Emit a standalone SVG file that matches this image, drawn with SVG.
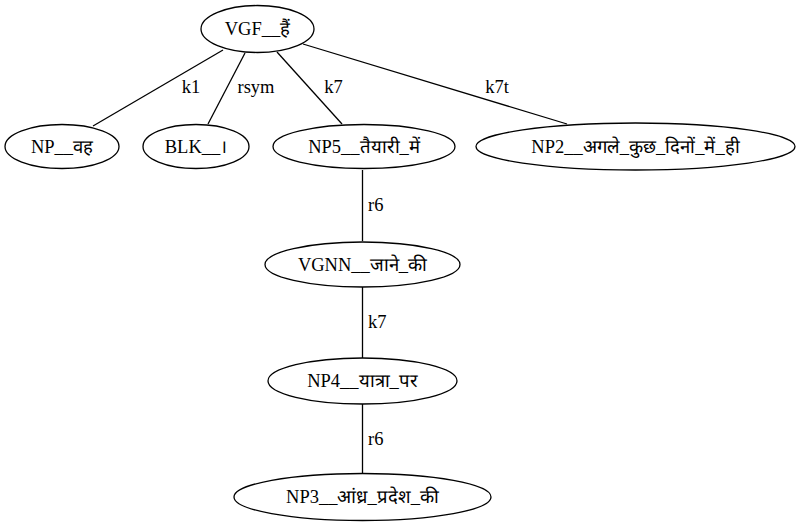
<svg xmlns="http://www.w3.org/2000/svg" width="800" height="528" viewBox="0 0 800 528">
<style>
.n ellipse{fill:none;stroke:#000;stroke-width:1.3}
.e line{stroke:#000;stroke-width:1.3}
</style>
<rect width="800" height="528" fill="#fff"/>
<g id="edges" class="e">
<line x1="223" y1="50" x2="93" y2="126"/>
<line x1="245" y1="53" x2="208" y2="124"/>
<line x1="277" y1="52" x2="342" y2="124"/>
<line x1="303" y1="44" x2="567" y2="124"/>
<line x1="362.5" y1="170" x2="362.5" y2="241"/>
<line x1="362.5" y1="287" x2="362.5" y2="358"/>
<line x1="362.5" y1="404" x2="362.5" y2="474"/>
<text x="191" y="93" font-family="Liberation Serif" font-size="18.5" text-anchor="middle">k1</text>
<text x="256" y="93" font-family="Liberation Serif" font-size="18.5" text-anchor="middle">rsym</text>
<text x="333.5" y="93" font-family="Liberation Serif" font-size="18.5" text-anchor="middle">k7</text>
<text x="497" y="93" font-family="Liberation Serif" font-size="18.5" text-anchor="middle">k7t</text>
<text x="368" y="211" font-family="Liberation Serif" font-size="18.5">r6</text>
<text x="368" y="328" font-family="Liberation Serif" font-size="18.5">k7</text>
<text x="368" y="445" font-family="Liberation Serif" font-size="18.5">r6</text>
</g>
<g id="n_vgf" class="n"><ellipse cx="257.5" cy="29" rx="56.5" ry="23.5"/><text x="257.5" y="35" font-family="Liberation Serif" font-size="18.5" text-anchor="middle">VGF__हैं</text></g>
<g id="n_np" class="n"><ellipse cx="62" cy="146.5" rx="57" ry="22"/><text x="62" y="152.5" font-family="Liberation Serif" font-size="18.5" text-anchor="middle">NP__वह</text></g>
<g id="n_blk" class="n"><ellipse cx="196" cy="146.5" rx="53" ry="22"/><text x="196" y="152.5" font-family="Liberation Serif" font-size="18.5" text-anchor="middle">BLK__।</text></g>
<g id="n_np5" class="n"><ellipse cx="364" cy="146.5" rx="91" ry="22"/><text x="364" y="152.5" font-family="Liberation Serif" font-size="18.5" text-anchor="middle">NP5__तैयारी_में</text></g>
<g id="n_np2" class="n"><ellipse cx="635.5" cy="146.5" rx="159.5" ry="23.5"/><text x="635.5" y="152.5" font-family="Liberation Serif" font-size="18.5" text-anchor="middle">NP2__अगले_कुछ_दिनों_में_ही</text></g>
<g id="n_vgnn" class="n"><ellipse cx="362.5" cy="264.5" rx="97.5" ry="22.5"/><text x="362.5" y="270.5" font-family="Liberation Serif" font-size="18.5" text-anchor="middle">VGNN__जाने_की</text></g>
<g id="n_np4" class="n"><ellipse cx="362.5" cy="381" rx="94.5" ry="23"/><text x="362.5" y="387" font-family="Liberation Serif" font-size="18.5" text-anchor="middle">NP4__यात्रा_पर</text></g>
<g id="n_np3" class="n"><ellipse cx="362.5" cy="497" rx="128.5" ry="23.5"/><text x="362.5" y="503" font-family="Liberation Serif" font-size="18.5" text-anchor="middle">NP3__आंध्र_प्रदेश_की</text></g>
</svg>
